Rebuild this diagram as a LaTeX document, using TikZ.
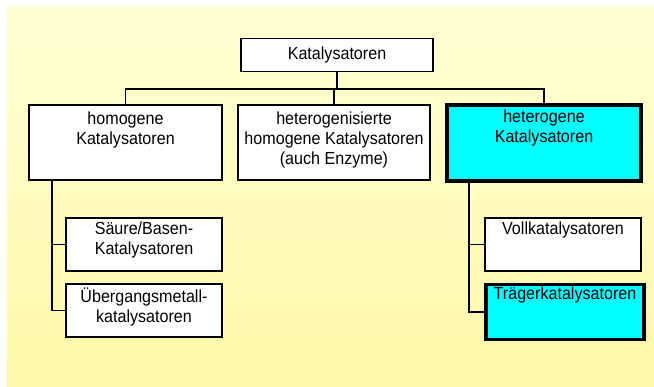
\documentclass[tikz,border=0pt]{standalone}
\usepackage{fontspec}
\setmainfont{Liberation Sans}[FakeStretch=0.92]
\usepackage{xcolor}
\definecolor{bgtop}{RGB}{255,255,212}
\definecolor{bgbottom}{RGB}{255,248,168}
\definecolor{kataqua}{RGB}{0,255,255}

\begin{document}
\begin{tikzpicture}[x=1pt, y=-1pt,
  kbox/.style={draw, line width=1.8pt, fill=white, inner sep=0pt, font=\fontsize{17.5}{20}\selectfont, align=center},
  kboxhi/.style={kbox, fill=kataqua, line width=3.8pt},
  ktext/.style={anchor=north, inner sep=0pt, font=\fontsize{17.5}{20}\selectfont, align=center},
  link/.style={line width=1.3pt}]
  \useasboundingbox (0,0) rectangle (654,387);
  \fill[top color=bgtop, bottom color=bgbottom] (7,7) rectangle (654,387);

  \node[kbox, minimum width=192pt, minimum height=33pt] (kat) at (337,55) {Katalysatoren};
  \node[kbox, minimum width=193pt, minimum height=75pt,
    label={[ktext, yshift=-8pt]north:homogene\\Katalysatoren}] (homo) at (125.5,142.5) {};
  \node[kbox, minimum width=192pt, minimum height=75pt,
    label={[ktext, yshift=-8pt]north:heterogenisierte\\homogene Katalysatoren\\(auch Enzyme)}] (mix) at (334,142.5) {};
  \node[kboxhi, minimum width=194.5pt, minimum height=76pt,
    label={[ktext, yshift=-7pt]north:heterogene\\Katalysatoren}] (het) at (544,143) {};

  \node[kbox, minimum width=156pt, minimum height=53pt,
    label={[ktext, yshift=-5pt]north:Säure/Basen-\\Katalysatoren}] (saeure) at (144,244.5) {};
  \node[kbox, minimum width=156pt, minimum height=53pt,
    label={[ktext, yshift=-5pt]north:Übergangsmetall-\\katalysatoren}] (ueber) at (144,310.5) {};
  \node[kbox, minimum width=156pt, minimum height=53pt,
    label={[ktext, yshift=-5pt]north:Vollkatalysatoren}] (voll) at (563,244.5) {};
  \node[kboxhi, minimum width=158pt, minimum height=55pt,
    label={[ktext, yshift=-4pt]north:Trägerkatalysatoren}] (traeger) at (565,312) {};

  % tree lines
  \coordinate (bar) at (337,89);
  \draw[link] (kat.south) -- (bar);
  \draw[link] (homo.north) |- (bar) -| (het.north);
  \draw[link] (mix.north) -- (mix.north |- bar);
  \coordinate (homotrunk) at ([xshift=24pt]homo.south west);
  \draw[link] (homotrunk) |- (saeure.west);
  \draw[link] (homotrunk) |- (ueber.west);
  \coordinate (hettrunk) at ([xshift=24pt]het.south west);
  \draw[link] (hettrunk) |- (voll.west);
  \draw[link] (hettrunk) |- (traeger.west);
\end{tikzpicture}
\end{document}
